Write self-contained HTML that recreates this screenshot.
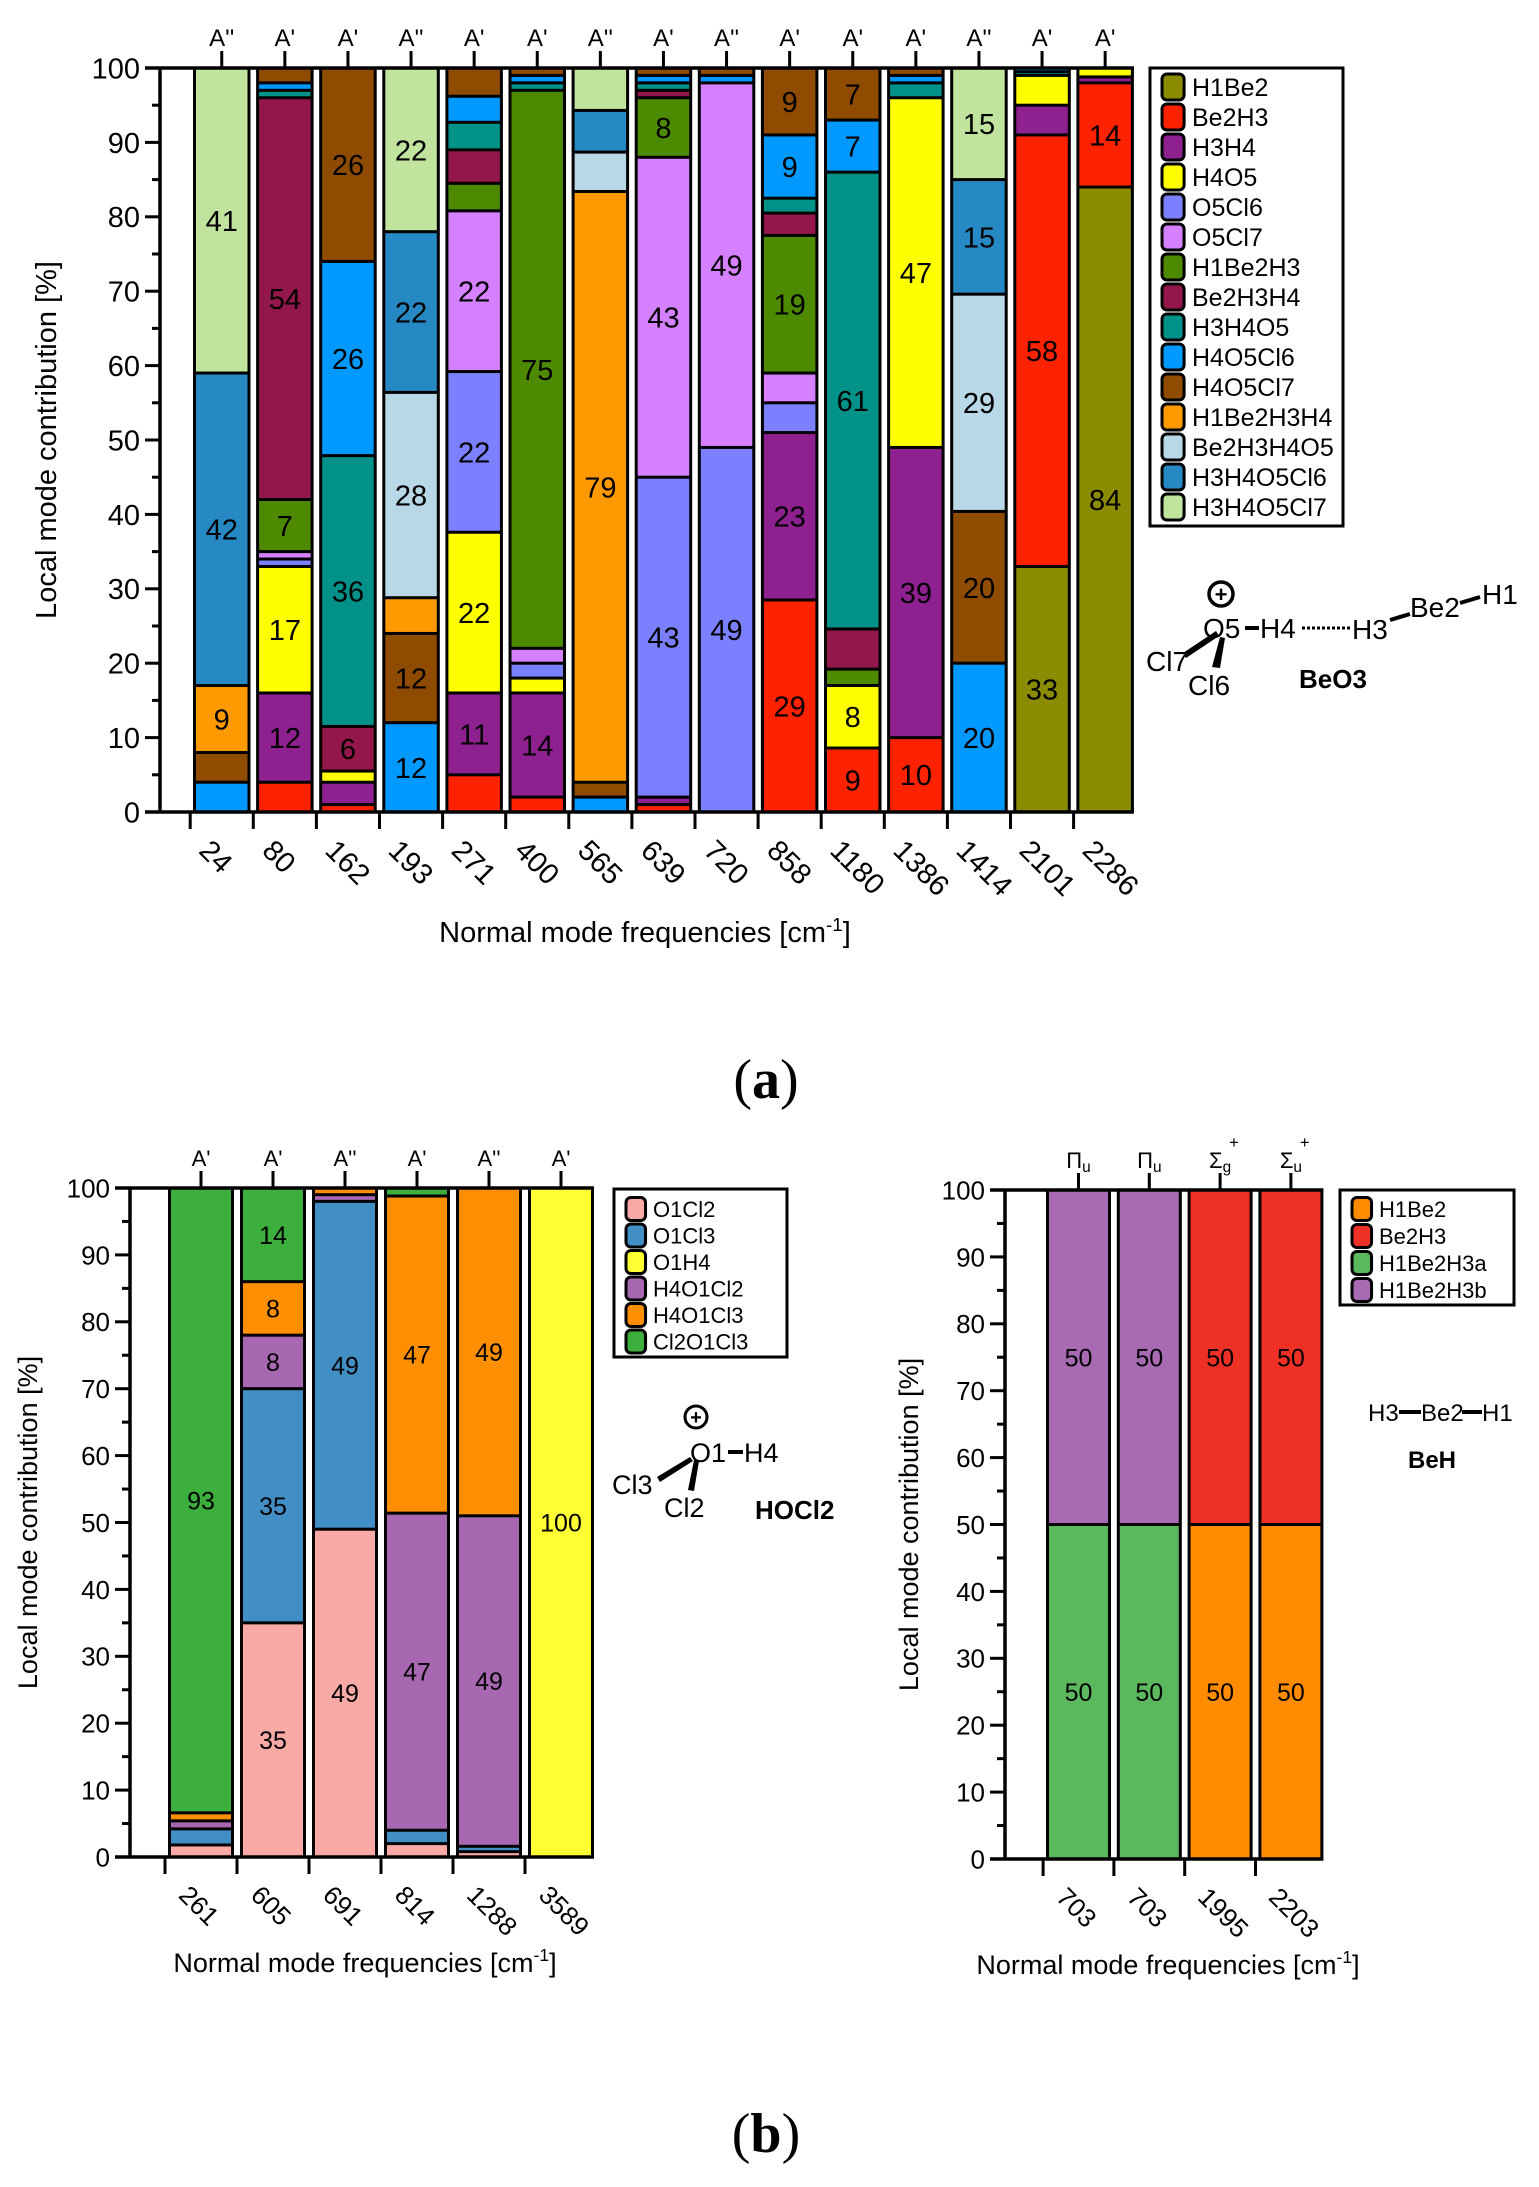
<!DOCTYPE html>
<html><head><meta charset="utf-8"><style>
body{margin:0;background:#fff;}
svg text{font-family:"Liberation Sans",sans-serif;}
</style></head><body>
<svg id="root" width="1539" height="2182" xmlns="http://www.w3.org/2000/svg">
<g id="chartA"></g>
<g id="chartB1"></g>
<g id="chartB2"></g>

<!-- BeO3 molecule -->
<g>
<circle cx="1221" cy="594" r="12" fill="none" stroke="#000" stroke-width="3.5"/>
<text x="1221" y="602" text-anchor="middle" font-weight="bold" font-size="22">+</text>
<text x="1203" y="638" font-size="28">O5</text>
<line x1="1245" y1="628" x2="1259" y2="628" stroke="#000" stroke-width="4"/>
<text x="1260" y="638" font-size="28">H4</text>
<line x1="1302" y1="628" x2="1350" y2="628" stroke="#000" stroke-width="3" stroke-dasharray="3,2"/>
<text x="1352" y="639" font-size="28">H3</text>
<line x1="1390" y1="620" x2="1410" y2="614" stroke="#000" stroke-width="4"/>
<text x="1410" y="617" font-size="28">Be2</text>
<line x1="1460" y1="603" x2="1480" y2="597" stroke="#000" stroke-width="4"/>
<text x="1482" y="604" font-size="28">H1</text>
<polygon points="1183,653 1216,631 1219,636 1186,658" fill="#000"/>
<polygon points="1212,667 1220,637 1225,638 1220,668" fill="#000"/>
<text x="1146" y="671" font-size="28">Cl7</text>
<text x="1188" y="695" font-size="28">Cl6</text>
<text x="1299" y="688" font-size="26" font-weight="bold">BeO3</text>
</g>

<!-- HOCl2 molecule -->
<g>
<circle cx="696" cy="1417" r="11" fill="none" stroke="#000" stroke-width="3"/>
<text x="696" y="1424" text-anchor="middle" font-weight="bold" font-size="20">+</text>
<text x="690" y="1462" font-size="27">O1</text>
<line x1="728" y1="1452" x2="743" y2="1452" stroke="#000" stroke-width="4"/>
<text x="744" y="1462" font-size="27">H4</text>
<polygon points="657,1477 690,1457 693,1461 660,1482" fill="#000"/>
<polygon points="688,1490 694,1460 699,1461 694,1491" fill="#000"/>
<text x="612" y="1494" font-size="27">Cl3</text>
<text x="664" y="1517" font-size="27">Cl2</text>
<text x="755" y="1519" font-size="26" font-weight="bold">HOCl2</text>
</g>

<!-- BeH molecule -->
<g>
<text x="1368" y="1421" font-size="24">H3</text>
<line x1="1399" y1="1412" x2="1421" y2="1412" stroke="#000" stroke-width="4"/>
<text x="1421" y="1421" font-size="24">Be2</text>
<line x1="1462" y1="1412" x2="1482" y2="1412" stroke="#000" stroke-width="4"/>
<text x="1482" y="1421" font-size="24">H1</text>
<text x="1408" y="1468" font-size="24" font-weight="bold">BeH</text>
</g>

<text x="766" y="1098" text-anchor="middle" font-size="56" style="font-family:'Liberation Serif',serif">(<tspan font-weight="bold">a</tspan>)</text>
<text x="766" y="2152" text-anchor="middle" font-size="56" style="font-family:'Liberation Serif',serif">(<tspan font-weight="bold">b</tspan>)</text>
</svg>
<script>
// ---------- Chart A data ----------
const catsA = ["24","80","162","193","271","400","565","639","720","858","1180","1386","1414","2101","2286"];
const symA = ["A''","A'","A'","A''","A'","A'","A''","A'","A''","A'","A'","A'","A''","A'","A'"];
const seriesA = ["H1Be2","Be2H3","H3H4","H4O5","O5Cl6","O5Cl7","H1Be2H3","Be2H3H4","H3H4O5","H4O5Cl6","H4O5Cl7","H1Be2H3H4","Be2H3H4O5","H3H4O5Cl6","H3H4O5Cl7"];
const colorsA = ["#8b8b00","#ff2200","#8e2090","#ffff00","#7b80ff","#d580ff","#4e8a00","#93174b","#009189","#0099ff","#8f4b00","#ff9900","#b8d8e8","#2689c4","#c0e39e"];
const vH1Be2      = [0,0,0,0,0,0,0,0,0,0,0,0,0,33,84];
const vBe2H3      = [0,4,1,0,5,2,0,1,0,28.5,8.6,10,0,58,14];
const vH3H4       = [0,12,3,0,11,14,0,1,0,22.5,0,39,0,4,0.8];
const vH4O5       = [0,17,1.5,0,21.6,2,0,0,0,0,8.4,47,0,4,1.2];
const vO5Cl6      = [0,1,0,0,21.6,2,0,43,49,4,0,0,0,0,0];
const vO5Cl7      = [0,1,0,0,21.6,2,0,43,49,4,0,0,0,0,0];
const vH1Be2H3    = [0,7,0,0,3.7,75,0,8,0,18.5,2.2,0,0,0,0];
const vBe2H3H4    = [0,54,6,0,4.5,0,0,1,0,3,5.4,0,0,0,0];
const vH3H4O5     = [0,1,36.4,0,3.7,1,0,1,0,2,61.4,2,0,0.5,0];
const vH4O5Cl6    = [4,1,26.1,12,3.5,1,2,1,1,8.5,7,1,20,0.5,0];
const vH4O5Cl7    = [4,2,26,12,3.8,1,2,1,1,9,7,1,20.4,0,0];
const vH1Be2H3H4  = [9,0,0,4.8,0,0,79.4,0,0,0,0,0,0,0,0];
const vBe2H3H4O5  = [0,0,0,27.6,0,0,5.3,0,0,0,0,0,29.2,0,0];
const vH3H4O5Cl6  = [42,0,0,21.6,0,0,5.6,0,0,0,0,0,15.4,0,0];
const vH3H4O5Cl7  = [41,0,0,22,0,0,5.7,0,0,0,0,0,15,0,0];
const valuesA = [vH1Be2,vBe2H3,vH3H4,vH4O5,vO5Cl6,vO5Cl7,vH1Be2H3,vBe2H3H4,vH3H4O5,vH4O5Cl6,vH4O5Cl7,vH1Be2H3H4,vBe2H3H4O5,vH3H4O5Cl6,vH3H4O5Cl7];

// ---------- Chart B1 data ----------
const catsB1 = ["261","605","691","814","1288","3589"];
const symB1 = ["A'","A'","A''","A'","A''","A'"];
const seriesB1 = ["O1Cl2","O1Cl3","O1H4","H4O1Cl2","H4O1Cl3","Cl2O1Cl3"];
const colorsB1 = ["#f9aaa6","#428fc6","#ffff33","#a768b1","#ff8f00","#3daf3c"];
const vO1Cl2    = [1.8,35,49,2,0.8,0];
const vO1Cl3    = [2.4,35,49,2,0.8,0];
const vO1H4     = [0,0,0,0,0,100];
const vH4O1Cl2  = [1.2,8,1,47.4,49.4,0];
const vH4O1Cl3  = [1.2,8,1,47.4,49,0];
const vCl2O1Cl3 = [93.4,14,0,1.2,0,0];
const valuesB1 = [vO1Cl2,vO1Cl3,vO1H4,vH4O1Cl2,vH4O1Cl3,vCl2O1Cl3];

// ---------- Chart B2 data ----------
const catsB2 = ["703","703","1995","2203"];
const symB2 = ["Π|u","Π|u","Σ|g","Σ|u"];
const seriesB2 = ["H1Be2","Be2H3","H1Be2H3a","H1Be2H3b"];
const colorsB2 = ["#ff8c00","#ee3124","#5cb85c","#a86ab2"];
const vBH1Be2   = [0,0,50,50];
const vBBe2H3   = [0,0,50,50];
const vBH1Be2H3a= [50,50,0,0];
const vBH1Be2H3b= [50,50,0,0];
const valuesB2 = [vBH1Be2,vBBe2H3,vBH1Be2H3a,vBH1Be2H3b];

const NS = "http://www.w3.org/2000/svg";
function mk(parent, tag, attrs){
  const e = document.createElementNS(NS, tag);
  for (const k in attrs) e.setAttribute(k, attrs[k]);
  parent.appendChild(e); return e;
}

function drawChart(g, cfg, cats, syms, series, colors, values){
  const yS = v => cfg.bottom - (cfg.bottom - cfg.top) * v / 100;
  const xL = i => cfg.barStart + i * cfg.pitch;
  cats.forEach((c, i) => {
    let acc = 0;
    const x = xL(i);
    const bg = mk(g, 'rect', {x: x, y: cfg.top, width: cfg.barW, height: cfg.bottom - cfg.top, fill: '#000'});
    
    
    series.forEach((s, k) => {
      const v = values[k][i];
      if (v <= 0) return;
      const y1 = yS(acc + v), y0 = yS(acc);
      acc += v;
      const b = cfg.border;
      const r = mk(g, 'rect', {x: x + b, y: y1 + b/2, width: cfg.barW - 2*b, height: Math.max(0.5, y0 - y1 - b), fill: colors[k]});
      
      
      if (v >= 5.9) {
        const t = mk(g, 'text', {x: x + cfg.barW/2, y: (y0 + y1)/2 + cfg.lblSize*0.36, 'text-anchor': 'middle', 'font-size': cfg.lblSize});
        t.textContent = Math.round(v);
        
        
      }
    });
    const cx = x + cfg.barW/2;
    mk(g, 'line', {x1: cx, y1: cfg.top, x2: cx, y2: cfg.top - 17, stroke: '#000', 'stroke-width': 3});
    const sym = syms[i];
    const st = mk(g, 'text', {x: cx, y: cfg.top - 22, 'text-anchor': 'middle', 'font-size': cfg.symSize});
    if (sym.indexOf('|') >= 0) {
      const parts = sym.split('|');
      st.textContent = parts[0];
      const sub = mk(st, 'tspan', {'font-size': cfg.symSize*0.7, dy: 4});
      sub.textContent = parts[1];
      if (parts[0] === 'Σ') {
        const sup = mk(g, 'text', {x: cx + 9, y: cfg.top - 42, 'font-size': cfg.symSize*0.75});
        sup.textContent = '+';
        
        
      }
    } else st.textContent = sym;
    
    
    mk(g, 'line', {x1: x - cfg.gap/2, y1: cfg.bottom, x2: x - cfg.gap/2, y2: cfg.bottom + 17, stroke: '#000', 'stroke-width': 3});
    const lx = cx - 10, ly = cfg.bottom + 26;
    const xt = mk(g, 'text', {x: lx, y: ly, 'font-size': cfg.tickSize, transform: 'rotate(45 ' + lx + ' ' + ly + ')', 'dominant-baseline': 'hanging'});
    xt.textContent = c;
    
    
  });
  const right = xL(cats.length - 1) + cfg.barW;
  mk(g, 'line', {x1: cfg.axisX, y1: cfg.top, x2: cfg.axisX, y2: cfg.bottom, stroke: '#000', 'stroke-width': 3.5});
  mk(g, 'line', {x1: cfg.axisX - 15, y1: cfg.bottom, x2: right, y2: cfg.bottom, stroke: '#000', 'stroke-width': 3.5});
  mk(g, 'line', {x1: cfg.axisX - 15, y1: cfg.top, x2: right, y2: cfg.top, stroke: '#000', 'stroke-width': 3.5});
  for (let v = 0; v <= 100; v += 5) {
    const y = yS(v);
    const major = v % 10 === 0;
    mk(g, 'line', {x1: cfg.axisX - (major ? 15 : 8), y1: y, x2: cfg.axisX, y2: y, stroke: '#000', 'stroke-width': 3});
    if (major) {
      const t = mk(g, 'text', {x: cfg.axisX - 20, y: y + cfg.tickSize*0.36, 'text-anchor': 'end', 'font-size': cfg.tickSize});
      t.textContent = v;
      
      
    }
  }
  const yt = mk(g, 'text', {x: 0, y: 0, 'text-anchor': 'middle', 'font-size': cfg.titleSize, transform: 'translate(' + cfg.yTitleX + ',' + (cfg.top + cfg.bottom)/2 + ') rotate(-90)'});
  yt.textContent = 'Local mode contribution [%]';
  
  
  const xtt = mk(g, 'text', {x: cfg.xTitleX, y: cfg.xTitleY, 'text-anchor': 'middle', 'font-size': cfg.titleSize});
  xtt.textContent = 'Normal mode frequencies [cm';
  const sp = mk(xtt, 'tspan', {dy: -11, 'font-size': cfg.titleSize*0.65}); sp.textContent = '-1';
  const sp2 = mk(xtt, 'tspan', {dy: 11}); sp2.textContent = ']';
  
  
  const L = cfg.legend;
  const lg = mk(g, 'g', {});
  
  
  mk(lg, 'rect', {x: L.x, y: L.y, width: L.w, height: L.h, fill: '#fff', stroke: '#000', 'stroke-width': 3});
  series.forEach((s, k) => {
    const yy = L.y + L.first + k * L.step;
    const sw = mk(lg, 'rect', {x: L.x + 12, y: yy - L.sw/2, width: L.sw*0.85, height: L.sw, rx: 5, fill: colors[k], stroke: '#000', 'stroke-width': 3});
    
    
    const t = mk(lg, 'text', {x: L.x + 16 + L.sw, y: yy + L.font*0.36, 'font-size': L.font});
    t.textContent = s;
    
    
  });
}

drawChart(document.getElementById('chartA'), {
  top: 68, bottom: 812, axisX: 160, barStart: 193, pitch: 63.1, barW: 57.5, gap: 5.6, border: 3,
  lblSize: 29, symSize: 24, tickSize: 29, titleSize: 29, yTitleX: 56, xTitleX: 645, xTitleY: 942,
  legend: {x: 1150, y: 68, w: 193, h: 458, first: 19, step: 30, sw: 26, font: 25}
}, catsA, symA, seriesA, colorsA, valuesA);

drawChart(document.getElementById('chartB1'), {
  top: 1188, bottom: 1857, axisX: 130, barStart: 168, pitch: 72, barW: 66, gap: 6, border: 3,
  lblSize: 25, symSize: 22, tickSize: 26, titleSize: 27, yTitleX: 37, xTitleX: 365, xTitleY: 1972,
  legend: {x: 614, y: 1189, w: 173, h: 168, first: 20, step: 26.5, sw: 23, font: 22}
}, catsB1, symB1, seriesB1, colorsB1, valuesB1);

drawChart(document.getElementById('chartB2'), {
  top: 1190, bottom: 1859, axisX: 1005, barStart: 1046, pitch: 70.8, barW: 65, gap: 5.8, border: 3,
  lblSize: 25, symSize: 22, tickSize: 26, titleSize: 27, yTitleX: 918, xTitleX: 1168, xTitleY: 1974,
  legend: {x: 1340, y: 1190, w: 174, h: 115, first: 19, step: 27, sw: 23, font: 22}
}, catsB2, symB2, seriesB2, colorsB2, valuesB2);
</script>
</body></html>
